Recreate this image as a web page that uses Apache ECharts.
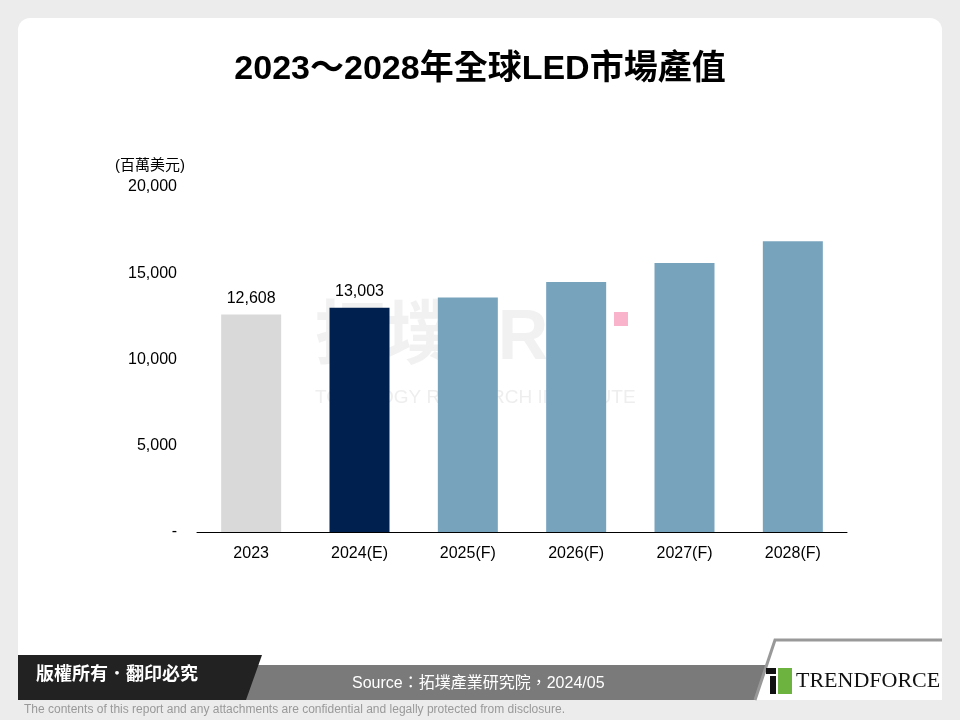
<!DOCTYPE html>
<html>
<head>
<meta charset="utf-8">
<script src="https://cdn.jsdelivr.net/npm/echarts@6/dist/echarts.min.js"></script>
<style>html,body{margin:0;padding:0;background:#ececec}#chart{width:960px;height:720px}</style>
</head>
<body>
<div id="chart"></div>
<script>
var categories = ['2023', '2024(E)', '2025(F)', '2026(F)', '2027(F)', '2028(F)'];
var values = [12608, 13003, 13600, 14500, 15600, 16850];
var barColors = ['#d9d9d9', '#002050', '#78a3bd', '#78a3bd', '#78a3bd', '#78a3bd'];
var shownLabels = ['12,608', '13,003', '', '', '', ''];

var font = 'Arial, "Liberation Sans", "Noto Sans CJK TC", sans-serif';
var myChart = echarts.init(document.getElementById('chart'));
var option = {
    backgroundColor: '#ececec',
    animation: false,
    title: {
        text: '2023～2028年全球LED市場產值',
        left: 'center',
        top: 48,
        textStyle: {fontSize: 34, fontWeight: 'bold', color: '#000', fontFamily: font}
    },
    grid: {left: 197, right: 113, top: 187, bottom: 188},
    xAxis: {
        type: 'category',
        data: categories,
        axisLine: {lineStyle: {color: '#000', width: 1}},
        axisTick: {show: false},
        axisLabel: {fontSize: 16, color: '#000', margin: 14, fontFamily: font}
    },
    yAxis: {
        type: 'value',
        min: 0, max: 20000, interval: 5000,
        name: '(百萬美元)',
        nameLocation: 'end',
        nameGap: 14,
        nameTextStyle: {fontSize: 15, color: '#000', align: 'left', padding: [0, 0, 0, -82], fontFamily: font},
        axisLine: {show: false},
        axisTick: {show: false},
        splitLine: {show: false},
        axisLabel: {
            fontSize: 16, color: '#000', margin: 20, fontFamily: font,
            formatter: function (v) { return v === 0 ? '-' : v.toLocaleString('en-US'); }
        }
    },
    series: [{
        type: 'bar',
        barWidth: 60,
        data: values.map(function (v, i) {
            return {value: v, itemStyle: {color: barColors[i]}};
        }),
        label: {
            show: true, position: 'top', fontSize: 16, color: '#000', distance: 8, fontFamily: font,
            formatter: function (p) { return shownLabels[p.dataIndex]; }
        }
    }],
    graphic: [
        {type: 'rect', z: -10, shape: {x: 18, y: 18, width: 924, height: 682, r: 12}, style: {fill: '#fff'}},
        {type: 'text', z: -5, left: 315, top: 305, style: {text: '拓墣TRI', fontSize: 70, fontWeight: 'bold', fill: 'rgba(200,200,200,0.25)', fontFamily: font}},
        {type: 'text', z: -5, left: 315, top: 388, style: {text: 'TOPOLOGY RESEARCH INSTITUTE', fontSize: 19, fill: 'rgba(200,200,200,0.3)', fontFamily: font}},
        {type: 'rect', z: -5, shape: {x: 614, y: 312, width: 14, height: 14}, style: {fill: '#f9b4cc'}},
        {type: 'polygon', shape: {points: [[240, 665], [775, 665], [762, 700], [240, 700]]}, style: {fill: '#7a7a7a'}},
        {type: 'polygon', shape: {points: [[18, 655], [262, 655], [246, 700], [18, 700]]}, style: {fill: '#222'}},
        {type: 'polygon', shape: {points: [[775, 640], [942, 640], [942, 700], [755, 700]]}, style: {fill: '#fff'}},
        {type: 'polyline', shape: {points: [[755, 700], [775, 640], [942, 640]]}, style: {stroke: '#999', lineWidth: 3, fill: null}},
        {type: 'text', left: 36, top: 666, style: {text: '版權所有．翻印必究', fontSize: 18, fontWeight: 'bold', fill: '#fff', fontFamily: font}},
        {type: 'text', left: 352, top: 676, style: {text: 'Source：拓墣產業研究院，2024/05', fontSize: 16, fill: '#fff', fontFamily: font}},
        {type: 'rect', shape: {x: 766, y: 668, width: 10, height: 6}, style: {fill: '#111'}},
        {type: 'rect', shape: {x: 770, y: 676, width: 6, height: 18}, style: {fill: '#111'}},
        {type: 'rect', shape: {x: 778, y: 668, width: 14, height: 26}, style: {fill: '#6cb33f'}},
        {type: 'text', left: 796, top: 670, style: {text: 'TRENDFORCE', fontSize: 22, fill: '#111', fontFamily: '"Liberation Serif", serif'}},
        {type: 'text', left: 24, top: 704, style: {text: 'The contents of this report and any attachments are confidential and legally protected from disclosure.', fontSize: 12, fill: '#999', fontFamily: font}}
    ]
};
myChart.setOption(option, true);
</script>
</body>
</html>
